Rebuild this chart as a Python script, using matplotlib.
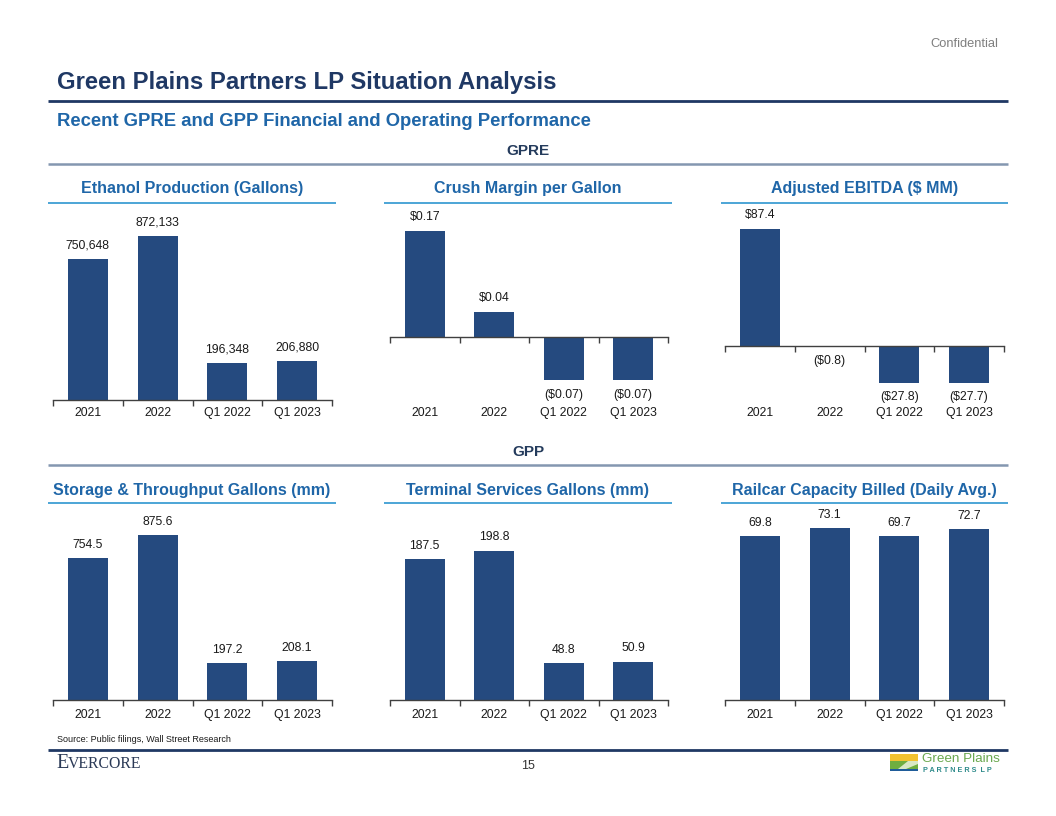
import matplotlib
matplotlib.use("Agg")
import matplotlib.pyplot as plt
from matplotlib.patches import Rectangle, Polygon

# ---------------- data ----------------
categories = ["2021", "2022", "Q1 2022", "Q1 2023"]

ethanol_gal = [750648, 872133, 196348, 206880]
crush_margin = [0.17, 0.04, -0.07, -0.07]
adj_ebitda = [87.4, -0.8, -27.8, -27.7]
storage_gal = [754.5, 875.6, 197.2, 208.1]
terminal_gal = [187.5, 198.8, 48.8, 50.9]
railcar_cap = [69.8, 73.1, 69.7, 72.7]

panel_titles = [
    "Ethanol Production (Gallons)", "Crush Margin per Gallon", "Adjusted EBITDA ($ MM)",
    "Storage & Throughput Gallons (mm)", "Terminal Services Gallons (mm)",
    "Railcar Capacity Billed (Daily Avg.)",
]

# ---------------- style ----------------
W, H = 1056, 816
BAR = "#254A7F"
NAVY = "#1F3864"
MIDBLUE = "#1F66A8"
LIGHTBLUE = "#3E9ED3"
GRAYLINE = "#8497B0"
TXT = "#1A1A1A"
FONT = "Liberation Sans"

plt.rcParams["font.family"] = [FONT, "DejaVu Sans"]

fig = plt.figure(figsize=(W / 100, H / 100), dpi=100)


def fx(x):
    return x / W


def fy(y):
    return 1 - y / H


def hline(x0, x1, y, color, lw):
    fig.add_artist(plt.Line2D([fx(x0), fx(x1)], [fy(y), fy(y)], color=color, lw=lw,
                              transform=fig.transFigure, solid_capstyle="butt"))


# header
fig.text(fx(998), fy(44), "Confidential", ha="right", va="center", fontsize=9.3, color="#7F7F7F")
fig.text(fx(57), fy(83), "Green Plains Partners LP Situation Analysis", ha="left", va="center",
         fontsize=17.2, fontweight="bold", color=NAVY)
hline(48, 1008, 101, NAVY, 2.0)
fig.text(fx(57), fy(122), "Recent GPRE and GPP Financial and Operating Performance", ha="left",
         va="center", fontsize=13.3, fontweight="bold", color=MIDBLUE)

# section headers
for label, ty, ly in [("GPRE", 151, 164), ("GPP", 452, 465)]:
    fig.text(fx(528), fy(ty), label, ha="center", va="center", fontsize=11,
             fontweight="bold", color="#243B5C")
    hline(48, 1008, ly, GRAYLINE, 1.8)


def fmt_plain_int(v):
    return f"{v:,.0f}"


def fmt_dollar2(v):
    return f"${v:.2f}" if v >= 0 else f"(${-v:.2f})"


def fmt_dollar1(v):
    return f"${v:.1f}" if v >= 0 else f"(${-v:.1f})"


def fmt_1(v):
    return f"{v:.1f}"


panels = [
    (ethanol_gal, fmt_plain_int, (0, 1000000)),
    (crush_margin, fmt_dollar2, (-0.102, 0.2)),
    (adj_ebitda, fmt_dollar1, (-40.8, 100)),
    (storage_gal, fmt_1, (0, 1000)),
    (terminal_gal, fmt_1, (0, 250)),
    (railcar_cap, fmt_1, (0, 80)),
]

ax_x = [(53, 332), (390, 668), (725, 1004)]
title_lines = [(48, 336), (384, 672), (721, 1008)]
rows = [dict(ax_top=212, ax_bot=400, title_y=189, line_y=203, tick_y=413),
        dict(ax_top=512, ax_bot=700, title_y=490, line_y=503, tick_y=715)]

for i, (vals, fmt, ylim) in enumerate(panels):
    r = rows[i // 3]
    c = i % 3
    x0, x1 = ax_x[c]
    lx0, lx1 = title_lines[c]
    # panel title + underline
    fig.text(fx((lx0 + lx1) / 2), fy(r["title_y"]), panel_titles[i], ha="center", va="center",
             fontsize=11.5, fontweight="bold", color=MIDBLUE)
    hline(lx0, lx1, r["line_y"], LIGHTBLUE, 1.3)

    ax = fig.add_axes([fx(x0), fy(r["ax_bot"]), (x1 - x0) / W, (r["ax_bot"] - r["ax_top"]) / H])
    xs = list(range(len(categories)))
    ax.bar(xs, vals, width=0.57, color=BAR, zorder=2)
    ax.set_xlim(-0.5, len(categories) - 0.5)
    ax.set_ylim(*ylim)
    for s in ["top", "right", "left"]:
        ax.spines[s].set_visible(False)
    ax.spines["bottom"].set_position(("data", 0))
    ax.spines["bottom"].set_color("#404040")
    ax.spines["bottom"].set_linewidth(1.0)
    ax.set_yticks([])
    ax.set_xticks([b - 0.5 for b in range(len(categories) + 1)])
    ax.set_xticklabels([])
    ax.tick_params(axis="x", length=4, width=1.0, color="#404040", direction="out")
    ax.patch.set_alpha(0)

    tick_frac = (r["ax_bot"] - r["tick_y"]) / (r["ax_bot"] - r["ax_top"])
    for xi, cat in zip(xs, categories):
        ax.text(xi, tick_frac, cat, transform=ax.get_xaxis_transform(), ha="center",
                va="center", fontsize=8.8, color=TXT)
    for xi, v in zip(xs, vals):
        off = 9.6 if v >= 0 else -10.5
        ax.annotate(fmt(v), (xi, v), xytext=(0, off), textcoords="offset points",
                    ha="center", va="center", fontsize=8.8, color=TXT)

# footer
fig.text(fx(57), fy(740), "Source: Public filings, Wall Street Research", ha="left", va="center",
         fontsize=6.5, color=TXT)
hline(48, 1008, 750, NAVY, 2.0)
fig.text(fx(56), fy(768), "E", ha="left", va="baseline", fontsize=14.5, color="#2B3A57",
         family=["Liberation Serif", "DejaVu Serif"])
fig.text(fx(68), fy(768), "VERCORE", ha="left", va="baseline", fontsize=11.3, color="#2B3A57",
         family=["Liberation Serif", "DejaVu Serif"])
fig.text(fx(528), fy(766), "15", ha="center", va="center", fontsize=9, color="#333333")

# Green Plains logo (approximate)
lx, lx1b = 890, 918
fig.add_artist(Rectangle((fx(lx), fy(761)), (lx1b - lx) / W, 7 / H, transform=fig.transFigure,
                         color="#F2C230", lw=0))
fig.add_artist(Rectangle((fx(lx), fy(769)), (lx1b - lx) / W, 8 / H, transform=fig.transFigure,
                         color="#6FAE3F", lw=0))
fig.add_artist(Rectangle((fx(lx), fy(771)), (lx1b - lx) / W, 2 / H, transform=fig.transFigure,
                         color="#1F5C99", lw=0))
fig.add_artist(Polygon([(fx(898), fy(769)), (fx(908), fy(761)), (fx(918), fy(761)),
                        (fx(918), fy(764)), (fx(906), fy(769))], closed=True,
                       transform=fig.transFigure, color="#D9E8C4", lw=0))
fig.text(fx(922), fy(759), "Green Plains", ha="left", va="center", fontsize=9.7,
         color="#6AA84F")
fig.text(fx(923), fy(770), "P A R T N E R S  L P", ha="left", va="center", fontsize=5.2,
         fontweight="bold", color="#2E8B8B")

fig.savefig("out.png", dpi=100)
